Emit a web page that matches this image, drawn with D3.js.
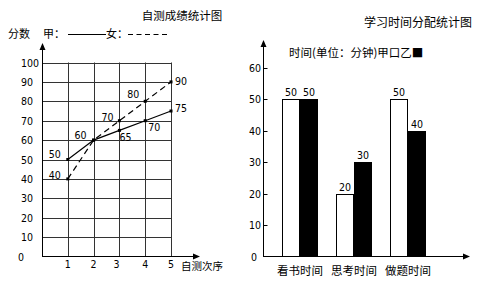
<!DOCTYPE html>
<html>
<head>
<meta charset="utf-8">
<script src="https://cdn.jsdelivr.net/npm/d3@7"></script>
<style>
  body { margin: 0; background: #fff; }
  text { fill: #000; }
  .cjk { font-family: "Noto Sans CJK SC", sans-serif; }
  .num { font-family: "Liberation Sans Narrow", "DejaVu Sans Condensed", sans-serif; }
</style>
</head>
<body>
<script>
// left chart: scores per test
var tests = [1, 2, 3, 4, 5];
var jiaScores = [50, 60, 65, 70, 75];   // solid
var nvScores = [40, 60, 70, 80, 90];    // dashed
var scoreTicks = [0, 10, 20, 30, 40, 50, 60, 70, 80, 90, 100];

// right chart: study time
var categories = ["看书时间", "思考时间", "做题时间"];
var jiaTime = [50, 20, 50];
var yiTime = [50, 30, 40];
var timeTicks = [0, 10, 20, 30, 40, 50, 60];

var W = 478, H = 282;
var svg = d3.select("body").append("svg")
    .attr("width", W).attr("height", H);

function arrow(g, x, y, dir) {
    // small filled arrow head, dir "up" or "right"
    var p = dir == "up"
        ? [[x, y], [x - 3, y + 7], [x + 3, y + 7]]
        : [[x, y], [x - 7, y - 3], [x - 7, y + 3]];
    g.append("path").attr("d", "M" + p.join("L") + "Z").attr("fill", "#000");
}

//------------------------------------------------------------ left chart
var xL = d3.scaleLinear().domain([0, 5]).range([42, 171]);
var yL = d3.scaleLinear().domain([0, 100]).range([256.5, 62.5]);
var left = svg.append("g");

left.append("text").attr("class", "cjk").attr("x", 182).attr("y", 20)
    .attr("text-anchor", "middle").style("font-size", "11.5px").text("自测成绩统计图");

// legend line
left.append("text").attr("class", "cjk").attr("x", 8).attr("y", 38)
    .style("font-size", "11px").text("分数");
left.append("text").attr("class", "cjk").attr("x", 43).attr("y", 38)
    .style("font-size", "11px").text("甲：");
left.append("line").attr("x1", 68).attr("x2", 106).attr("y1", 34.5).attr("y2", 34.5)
    .attr("stroke", "#000");
left.append("text").attr("class", "cjk").attr("x", 106).attr("y", 38)
    .style("font-size", "11px").text("女：");
left.append("line").attr("x1", 128).attr("x2", 167).attr("y1", 34.5).attr("y2", 34.5)
    .attr("stroke", "#000").attr("stroke-dasharray", "5,3.5");

// grid
left.append("g").selectAll("line").data(scoreTicks.slice(1)).join("line")
    .attr("x1", xL(0)).attr("x2", xL(5))
    .attr("y1", d => Math.round(yL(d)) + 0.5).attr("y2", d => Math.round(yL(d)) + 0.5)
    .attr("stroke", "#333");
left.append("g").selectAll("line").data(tests).join("line")
    .attr("x1", d => Math.round(xL(d)) + 0.5).attr("x2", d => Math.round(xL(d)) + 0.5)
    .attr("y1", yL(100)).attr("y2", yL(0))
    .attr("stroke", "#333");

// axes
left.append("line").attr("x1", 42.5).attr("x2", 42.5).attr("y1", yL(0)).attr("y2", 46)
    .attr("stroke", "#000");
arrow(left, 42.5, 43, "up");
left.append("line").attr("x1", 42).attr("x2", 196).attr("y1", 256.5).attr("y2", 256.5)
    .attr("stroke", "#000");
arrow(left, 200, 256.5, "right");

left.append("g").selectAll("text").data(scoreTicks).join("text")
    .attr("class", "num").attr("x", d => d == 0 ? 18 : 21).attr("y", d => yL(d) + 4)
    .style("font-size", "10.5px").text(d => d);
left.append("g").selectAll("text").data(tests).join("text")
    .attr("class", "num").attr("x", d => xL(d) - (d == 3 ? 3 : 0)).attr("y", 268)
    .attr("text-anchor", "middle").style("font-size", "10.5px").text(d => d);
left.append("text").attr("class", "cjk").attr("x", 181).attr("y", 270)
    .style("font-size", "10.5px").text("自测次序");

var line = d3.line().x((d, i) => xL(tests[i])).y(d => yL(d));
left.append("path").datum(jiaScores).attr("d", line)
    .attr("fill", "none").attr("stroke", "#000").attr("stroke-width", 1.2);
left.append("path").datum(nvScores).attr("d", line)
    .attr("fill", "none").attr("stroke", "#000").attr("stroke-width", 1.2)
    .attr("stroke-dasharray", "6,4");

[jiaScores, nvScores].forEach(function (s) {
    left.append("g").selectAll("rect").data(s).join("rect")
        .attr("x", (d, i) => xL(tests[i]) - 1.5).attr("y", d => yL(d) - 1.5)
        .attr("width", 3).attr("height", 3).attr("fill", "#000");
});

// label offsets (dx, dy) for each point
var jiaLab = [[-19, -2], [-19, -1], [0, 11], [3, 10], [4, 1]];
var nvLab = [[-19, 0], null, [-18, 0], [-18, -3], [4, 3]];
function labels(s, offs) {
    s.forEach(function (d, i) {
        if (!offs[i]) return;
        left.append("text").attr("class", "num")
            .attr("x", xL(tests[i]) + offs[i][0]).attr("y", yL(d) + offs[i][1])
            .style("font-size", "10.5px").text(d);
    });
}
labels(jiaScores, jiaLab);
labels(nvScores, nvLab);

//------------------------------------------------------------ right chart
var xR = d3.scaleBand().domain(categories).range([273, 435])
    .paddingInner(1 / 3).paddingOuter(1 / 6);
var xSub = d3.scaleBand().domain(["甲", "乙"]).range([0, xR.bandwidth()]);
var yR = d3.scaleLinear().domain([0, 60]).range([256.5, 67.5]);
var right = svg.append("g");

right.append("text").attr("class", "cjk").attr("x", 418).attr("y", 27)
    .attr("text-anchor", "middle").style("font-size", "12px").text("学习时间分配统计图");
right.append("text").attr("class", "cjk").attr("x", 289).attr("y", 57)
    .style("font-size", "11.5px").text("时间(单位：分钟)甲口乙■");

right.append("line").attr("x1", 263.5).attr("x2", 263.5).attr("y1", 256.5).attr("y2", 43)
    .attr("stroke", "#000");
arrow(right, 263.5, 40, "up");
right.append("line").attr("x1", 263).attr("x2", 466).attr("y1", 256.5).attr("y2", 256.5)
    .attr("stroke", "#000");
arrow(right, 470, 256.5, "right");

right.append("g").selectAll("line").data(timeTicks.slice(1)).join("line")
    .attr("x1", 263.5).attr("x2", 267.5)
    .attr("y1", d => Math.round(yR(d)) + 0.5).attr("y2", d => Math.round(yR(d)) + 0.5)
    .attr("stroke", "#000");
right.append("g").selectAll("text").data(timeTicks).join("text")
    .attr("class", "num").attr("x", d => d == 0 ? 257 : 261).attr("y", d => yR(d) + 4)
    .attr("text-anchor", "end").style("font-size", "10.5px").text(d => d);

var series = [{ key: "甲", vals: jiaTime, fill: "#fff" }, { key: "乙", vals: yiTime, fill: "#000" }];
series.forEach(function (s) {
    right.append("g").selectAll("rect").data(s.vals).join("rect")
        .attr("x", (d, i) => xR(categories[i]) + xSub(s.key) + 0.5)
        .attr("y", d => Math.round(yR(d)) + 0.5)
        .attr("width", xSub.bandwidth() - 1)
        .attr("height", d => yR(0) - Math.round(yR(d)) - 0.5)
        .attr("fill", s.fill).attr("stroke", "#000");
    right.append("g").selectAll("text").data(s.vals).join("text")
        .attr("class", "num")
        .attr("x", (d, i) => xR(categories[i]) + xSub(s.key) + xSub.bandwidth() / 2)
        .attr("y", d => yR(d) - 3)
        .attr("text-anchor", "middle").style("font-size", "10.5px").text(d => d);
});

right.append("g").selectAll("text").data(categories).join("text")
    .attr("class", "cjk").attr("x", d => xR(d) + xR.bandwidth() / 2).attr("y", 275)
    .attr("text-anchor", "middle").style("font-size", "11.5px").text(d => d);
</script>
</body>
</html>
